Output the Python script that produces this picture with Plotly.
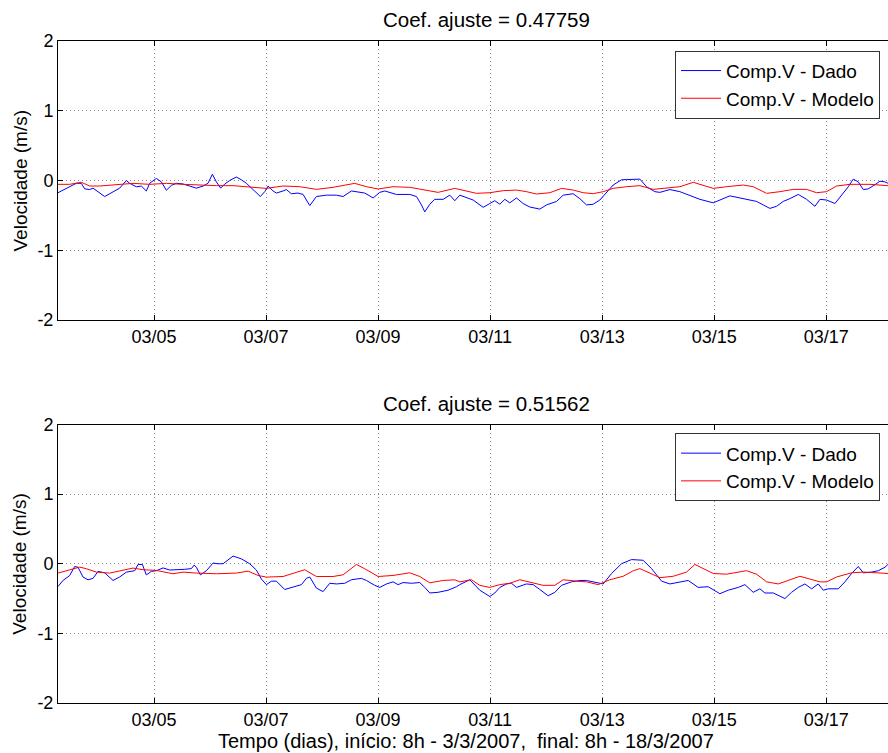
import datetime as dt
import plotly.graph_objects as go
from plotly.subplots import make_subplots

# ---- data (time as day of March 2007, velocity in m/s) ----
t_top_dado = [3.286, 3.375, 3.554, 3.613, 3.702, 3.762, 3.851, 3.911, 4.119, 4.268, 4.387, 4.506, 4.565, 4.685,
              4.774, 4.863, 4.923, 5.042, 5.131, 5.220, 5.310, 5.399, 5.518, 5.637, 5.756, 5.875, 5.964, 6.042,
              6.113, 6.190, 6.262, 6.351, 6.470, 6.560, 6.649, 6.768, 6.899, 6.976, 7.036, 7.125, 7.185, 7.304,
              7.363, 7.452, 7.571, 7.661, 7.780, 7.899, 8.077, 8.256, 8.375, 8.524, 8.613, 8.762, 8.911, 9.030,
              9.119, 9.208, 9.327, 9.565, 9.685, 9.774, 9.833, 9.923, 10.012, 10.161, 10.280, 10.369, 10.458,
              10.696, 10.875, 10.994, 11.083, 11.173, 11.262, 11.351, 11.470, 11.589, 11.708, 11.887, 12.006,
              12.185, 12.304, 12.482, 12.601, 12.720, 12.839, 12.958, 13.077, 13.196, 13.345, 13.673, 13.792,
              13.940, 14.030, 14.208, 14.387, 14.565, 14.744, 14.982, 15.161, 15.280, 15.458, 15.637, 15.756,
              15.875, 15.994, 16.113, 16.232, 16.351, 16.500, 16.649, 16.798, 16.887, 17.006, 17.155, 17.304,
              17.393, 17.482, 17.571, 17.661, 17.750, 17.869, 17.958, 18.048, 18.101]
v_top_dado = [-0.175, -0.14, -0.065, -0.04, -0.04, -0.12, -0.13, -0.11, -0.23, -0.16, -0.11, 0.0, -0.04, -0.09,
              -0.08, -0.15, -0.04, 0.03, -0.02, -0.14, -0.07, -0.04, -0.05, -0.08, -0.11, -0.08, -0.04, 0.09,
              -0.02, -0.11, -0.05, 0.0, 0.05, 0.01, -0.04, -0.13, -0.23, -0.16, -0.08, -0.15, -0.18, -0.15,
              -0.13, -0.19, -0.18, -0.20, -0.36, -0.23, -0.21, -0.21, -0.23, -0.15, -0.16, -0.18, -0.25, -0.17,
              -0.15, -0.17, -0.20, -0.20, -0.23, -0.35, -0.45, -0.34, -0.27, -0.27, -0.21, -0.29, -0.21,
              -0.28, -0.385, -0.33, -0.29, -0.34, -0.27, -0.32, -0.25, -0.33, -0.38, -0.41, -0.35,
              -0.30, -0.21, -0.19, -0.26, -0.35, -0.34, -0.28, -0.18, -0.065, 0.01, 0.02, -0.09,
              -0.16, -0.17, -0.13, -0.16, -0.21, -0.27, -0.32, -0.26, -0.22, -0.25, -0.28, -0.30,
              -0.35, -0.40, -0.37, -0.30, -0.26, -0.20, -0.27, -0.37, -0.27, -0.28, -0.33, -0.18,
              -0.09, 0.02, -0.02, -0.13, -0.12, -0.06, -0.01, -0.02, -0.04]

t_top_modelo = [3.286, 3.494, 3.702, 3.851, 4.030, 4.327, 4.625, 4.923, 5.220, 5.518, 5.815, 6.113, 6.411, 6.708,
                7.006, 7.304, 7.601, 7.899, 8.196, 8.583, 8.792, 9.000, 9.268, 9.565, 9.804, 10.071, 10.369,
                10.458, 10.577, 10.756, 10.994, 11.232, 11.470, 11.649, 11.827, 12.065, 12.274, 12.482, 12.661,
                12.839, 13.018, 13.196, 13.435, 13.673, 13.911, 14.149, 14.387, 14.625, 14.744, 14.982, 15.220,
                15.518, 15.696, 15.935, 16.173, 16.411, 16.649, 16.827, 17.006, 17.185, 17.423, 17.780, 18.101]
v_top_modelo = [-0.055, -0.055, -0.026, -0.079, -0.079, -0.055, -0.041, -0.055, -0.041, -0.055, -0.065, -0.074,
                -0.074, -0.089, -0.113, -0.079, -0.089, -0.127, -0.098, -0.041, -0.089, -0.122, -0.089, -0.098,
                -0.136, -0.170, -0.113, -0.127, -0.146, -0.184, -0.175, -0.146, -0.137, -0.160, -0.194, -0.175,
                -0.113, -0.137, -0.175, -0.189, -0.160, -0.113, -0.089, -0.074, -0.127, -0.113, -0.089, -0.026,
                -0.055, -0.113, -0.089, -0.065, -0.089, -0.184, -0.160, -0.127, -0.127, -0.175, -0.160, -0.079,
                -0.055, -0.055, -0.074]

t_bot_dado = [3.286, 3.375, 3.494, 3.583, 3.643, 3.732, 3.821, 3.911, 4.000, 4.119, 4.268, 4.387, 4.506, 4.655,
              4.714, 4.792, 4.863, 4.952, 5.042, 5.161, 5.280, 5.429, 5.548, 5.667, 5.714, 5.756, 5.827, 5.935,
              6.054, 6.143, 6.232, 6.411, 6.560, 6.708, 6.827, 6.917, 7.006, 7.095, 7.185, 7.333, 7.482, 7.631,
              7.720, 7.780, 7.899, 8.018, 8.137, 8.256, 8.405, 8.524, 8.702, 8.792, 8.940, 9.030, 9.149, 9.268,
              9.357, 9.446, 9.595, 9.744, 9.833, 9.923, 10.071, 10.250, 10.399, 10.458, 10.637, 10.815, 10.994,
              11.083, 11.173, 11.292, 11.381, 11.470, 11.649, 11.768, 11.887, 12.036, 12.155, 12.274, 12.452,
              12.601, 12.720, 12.839, 13.018, 13.167, 13.345, 13.524, 13.732, 13.881, 14.060, 14.208, 14.417,
              14.536, 14.714, 14.893, 15.101, 15.250, 15.429, 15.548, 15.696, 15.815, 15.905, 16.054, 16.262,
              16.381, 16.500, 16.619, 16.738, 16.857, 16.946, 17.036, 17.214, 17.333, 17.452, 17.571, 17.661,
              17.810, 17.929, 18.048, 18.101]
v_bot_dado = [-0.327, -0.24, -0.17, -0.04, -0.05, -0.19, -0.23, -0.21, -0.11, -0.13, -0.24, -0.19, -0.12, -0.10,
              -0.01, -0.01, -0.16, -0.11, -0.10, -0.06, -0.09, -0.09, -0.08, -0.07, -0.02, -0.05, -0.16, -0.10,
              0.01, 0.0, 0.0, 0.11, 0.07, 0.0, -0.09, -0.22, -0.30, -0.25, -0.25, -0.37, -0.34, -0.30,
              -0.21, -0.19, -0.35, -0.40, -0.28, -0.29, -0.28, -0.23, -0.21, -0.24, -0.31, -0.34, -0.29, -0.26,
              -0.30, -0.27, -0.28, -0.27, -0.34, -0.42, -0.41, -0.38, -0.33, -0.30, -0.23, -0.38, -0.47,
              -0.42, -0.34, -0.29, -0.28, -0.34, -0.29, -0.30, -0.37, -0.46, -0.41, -0.31, -0.26,
              -0.24, -0.24, -0.26, -0.29, -0.14, 0.0, 0.06, 0.05, -0.07, -0.25, -0.29, -0.26,
              -0.24, -0.34, -0.33, -0.43, -0.38, -0.34, -0.30, -0.41, -0.36, -0.42, -0.42, -0.50,
              -0.41, -0.34, -0.29, -0.36, -0.29, -0.38, -0.36, -0.36, -0.26, -0.14, -0.04, -0.13,
              -0.12, -0.10, -0.05, -0.01]

t_bot_modelo = [3.286, 3.494, 3.673, 3.792, 3.970, 4.208, 4.417, 4.625, 4.804, 5.042, 5.339, 5.518, 5.756, 6.113,
                6.470, 6.679, 6.857, 7.006, 7.304, 7.512, 7.690, 7.899, 8.196, 8.375, 8.613, 8.762, 9.000, 9.268,
                9.565, 9.744, 9.923, 10.161, 10.369, 10.458, 10.577, 10.667, 10.815, 10.994, 11.173, 11.351,
                11.530, 11.708, 11.946, 12.155, 12.304, 12.542, 12.720, 12.929, 13.137, 13.375, 13.554, 13.673,
                13.851, 14.030, 14.268, 14.506, 14.655, 14.774, 14.982, 15.220, 15.399, 15.577, 15.756, 15.935,
                16.143, 16.321, 16.530, 16.708, 16.887, 17.006, 17.185, 17.452, 17.661, 17.899, 18.101]
v_bot_modelo = [-0.134, -0.086, -0.048, -0.072, -0.120, -0.134, -0.096, -0.062, -0.086, -0.096, -0.144, -0.120,
                -0.134, -0.144, -0.134, -0.106, -0.168, -0.192, -0.183, -0.134, -0.086, -0.183, -0.183, -0.159,
                -0.010, -0.072, -0.183, -0.168, -0.130, -0.183, -0.274, -0.240, -0.231, -0.26, -0.24, -0.23,
                -0.31, -0.34, -0.30, -0.28, -0.23, -0.26, -0.31, -0.31, -0.23, -0.25, -0.26, -0.30, -0.23, -0.18,
                -0.10, -0.07, -0.14, -0.20, -0.18, -0.12, -0.01, -0.06, -0.14, -0.15, -0.12, -0.10, -0.15, -0.26,
                -0.29, -0.24, -0.18, -0.22, -0.26, -0.26, -0.19, -0.13, -0.12, -0.13, -0.14]

titles = ["Coef. ajuste = 0.47759", "Coef. ajuste = 0.51562"]
tick_days = [5, 7, 9, 11, 13, 15, 17]
tick_text = ["03/05", "03/07", "03/09", "03/11", "03/13", "03/15", "03/17"]
y_ticks = [-2, -1, 0, 1, 2]
y_tick_text = ["-2", "-1", "0", "1", "2"]
x_range_days = [3.286, 18.102]
legend_names = ["Comp.V - Dado", "Comp.V - Modelo"]
xlabel = "Tempo (dias), início: 8h - 3/3/2007,  final: 8h - 18/3/2007"
ylabel = "Velocidade (m/s)"


def to_dt(days):
    base = dt.datetime(2007, 3, 1)
    return [base + dt.timedelta(days=d - 1) for d in days]


FONT = "Liberation Sans, Arial, sans-serif"

fig = make_subplots(rows=2, cols=1, vertical_spacing=0.1)

series = [
    (1, t_top_dado, v_top_dado, t_top_modelo, v_top_modelo),
    (2, t_bot_dado, v_bot_dado, t_bot_modelo, v_bot_modelo),
]
for row, td, vd, tm, vm in series:
    lg = "legend" if row == 1 else "legend2"
    fig.add_trace(go.Scatter(x=to_dt(td), y=vd, mode="lines", name=legend_names[0],
                             line=dict(color="#0000ff", width=1), legend=lg),
                  row=row, col=1)
    fig.add_trace(go.Scatter(x=to_dt(tm), y=vm, mode="lines", name=legend_names[1],
                             line=dict(color="#ff0000", width=1), legend=lg),
                  row=row, col=1)

H = 753
T, B = 41, 50
plot_h = H - T - B
top_dom = [(703 - 320) / plot_h, 1.0]
bot_dom = [0.0, (703 - 424.5) / plot_h]

axis_common = dict(
    showline=True, linecolor="black", linewidth=1,
    ticks="inside", ticklen=5, tickcolor="black",
    showgrid=True, gridcolor="#8a8a8a", griddash="1px,3px", gridwidth=1,
    zeroline=False, tickfont=dict(family=FONT, size=18, color="black"),
)

for i, dom in [(1, top_dom), (2, bot_dom)]:
    fig.update_xaxes(row=i, col=1, range=to_dt(x_range_days), tickvals=to_dt(tick_days),
                     ticktext=tick_text, mirror="ticks", **axis_common)
    fig.update_yaxes(row=i, col=1, range=[-2, 2], tickvals=y_ticks, ticktext=y_tick_text,
                     domain=dom, mirror=False, **axis_common)

legend_style = dict(bgcolor="white", bordercolor="#333333", borderwidth=1,
                    font=dict(family=FONT, size=19, color="black"),
                    xanchor="left", yanchor="top", x=(675 - 58) / 830,
                    tracegroupgap=0, itemwidth=40)

fig.update_layout(
    width=888, height=H,
    margin=dict(l=58, r=0, t=T, b=B),
    plot_bgcolor="white", paper_bgcolor="white",
    font=dict(family=FONT, size=18, color="black"),
    legend=dict(y=(703 - 50.7) / plot_h, **legend_style),
    legend2=dict(y=(703 - 433.3) / plot_h, **legend_style),
)

cx_title = (487 - 58) / 830
cx_xlabel = (466 - 58) / 830
for title, dom in zip(titles, [top_dom, bot_dom]):
    fig.add_annotation(text=title, xref="paper", yref="paper", x=cx_title, y=dom[1],
                       xanchor="center", yanchor="bottom", yshift=8, showarrow=False,
                       font=dict(family=FONT, size=20.5, color="black"))
    fig.add_annotation(text=ylabel, xref="paper", yref="paper", x=0, y=(dom[0] + dom[1]) / 2,
                       xanchor="center", yanchor="middle", xshift=-38, textangle=-90, showarrow=False,
                       font=dict(family=FONT, size=19, color="black"))

fig.add_annotation(text=xlabel, xref="paper", yref="paper", x=cx_xlabel, y=0, xanchor="center",
                   yanchor="top", yshift=-26, showarrow=False, borderpad=0,
                   font=dict(family=FONT, size=20, color="black"))

fig.write_html("out.html")
